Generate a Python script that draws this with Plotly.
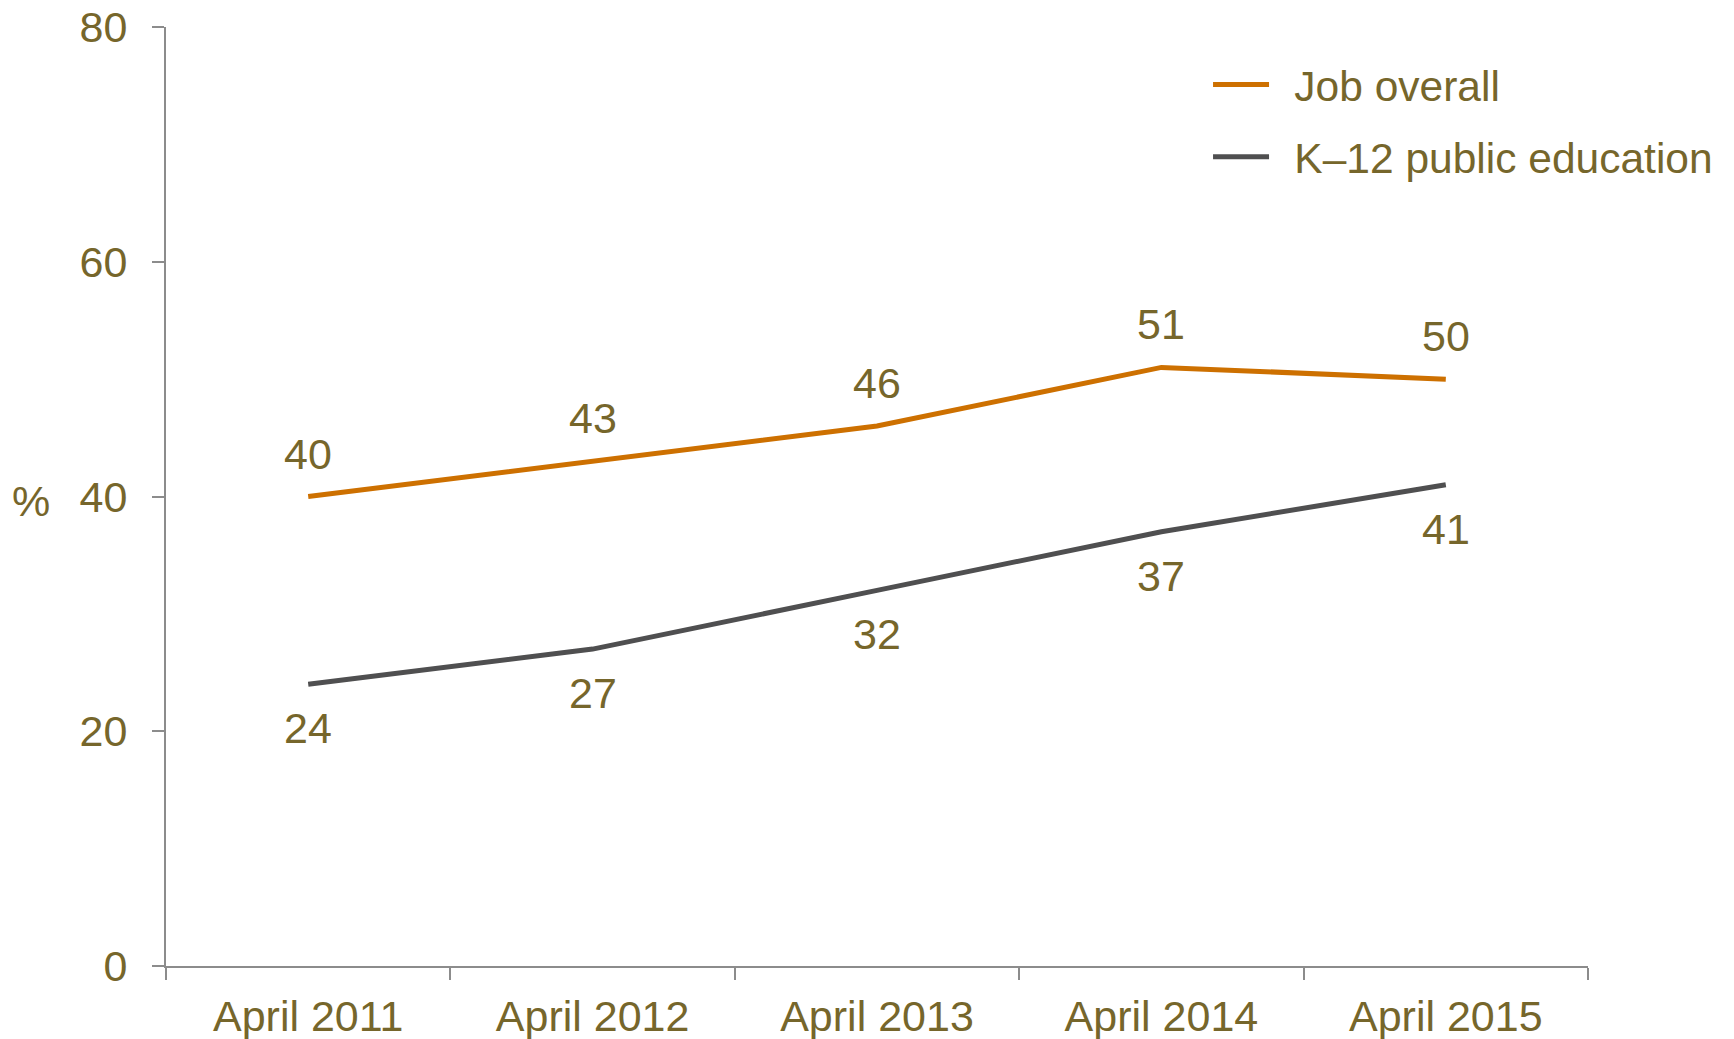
import plotly.graph_objects as go

categories = ["April 2011", "April 2012", "April 2013", "April 2014", "April 2015"]
job_overall = [40, 43, 46, 51, 50]
k12_public = [24, 27, 32, 37, 41]
y_ticks = [0, 20, 40, 60, 80]

TEXT = "#76662B"
ORANGE = "#CD7000"
GRAY = "#4F4F50"
AXIS = "#8C8C8C"
FONT = "Liberation Sans, Arial, sans-serif"
FS = 43
NB = "\u00a0\u2009"

fig = go.Figure()
fig.add_trace(go.Scatter(
    x=categories, y=job_overall, name=NB + "Job overall", mode="lines",
    line=dict(color=ORANGE, width=5), legendgroup="a",
))
fig.add_trace(go.Scatter(
    x=categories, y=k12_public, name=NB + "K\u201312 public education", mode="lines",
    line=dict(color=GRAY, width=5), legendgroup="b",
))

annotations = []
for c, v in zip(categories, job_overall):
    annotations.append(dict(x=c, y=v, xref="x", yref="y", text=str(v), showarrow=False,
                            yanchor="middle", xanchor="center", yshift=43,
                            font=dict(size=FS, color=TEXT, family=FONT)))
for c, v in zip(categories, k12_public):
    annotations.append(dict(x=c, y=v, xref="x", yref="y", text=str(v), showarrow=False,
                            yanchor="middle", xanchor="center", yshift=-44,
                            font=dict(size=FS, color=TEXT, family=FONT)))
annotations.append(dict(
    text="%", xref="paper", yref="paper", x=0, y=0.5, xshift=-135, yshift=-4,
    xanchor="center", yanchor="middle", showarrow=False,
    font=dict(size=FS, color=TEXT, family=FONT),
))

fig.update_layout(
    width=1726, height=1031,
    margin=dict(l=158, r=146, t=19, b=73, autoexpand=False),
    paper_bgcolor="white", plot_bgcolor="white",
    font=dict(family=FONT, size=FS, color=TEXT),
    showlegend=True,
    legend=dict(
        x=0.7328, y=0.975, xanchor="left", yanchor="top",
        font=dict(size=42.5, color=TEXT, family=FONT),
        bgcolor="rgba(0,0,0,0)", tracegroupgap=14,
        itemwidth=56,
    ),
    xaxis=dict(
        type="category", range=[-0.5, 4.5], tickson="boundaries",
        showline=True, linecolor=AXIS, linewidth=2,
        ticks="outside", ticklen=12, tickcolor=AXIS, tickwidth=2,
        showgrid=False, zeroline=False,
        tickfont=dict(size=FS, color=TEXT, family=FONT),
        ticklabelstandoff=11, ticklabeloverflow="allow",
    ),
    yaxis=dict(
        range=[0, 80], tickvals=y_ticks, ticktext=[str(v) for v in y_ticks],
        showline=True, linecolor=AXIS, linewidth=2,
        ticks="outside", ticklen=12, tickcolor=AXIS, tickwidth=2,
        showgrid=False, zeroline=False,
        tickfont=dict(size=FS, color=TEXT, family=FONT),
        ticklabelstandoff=16, ticklabeloverflow="allow",
    ),
    annotations=annotations,
)

fig.write_html("out.html")
